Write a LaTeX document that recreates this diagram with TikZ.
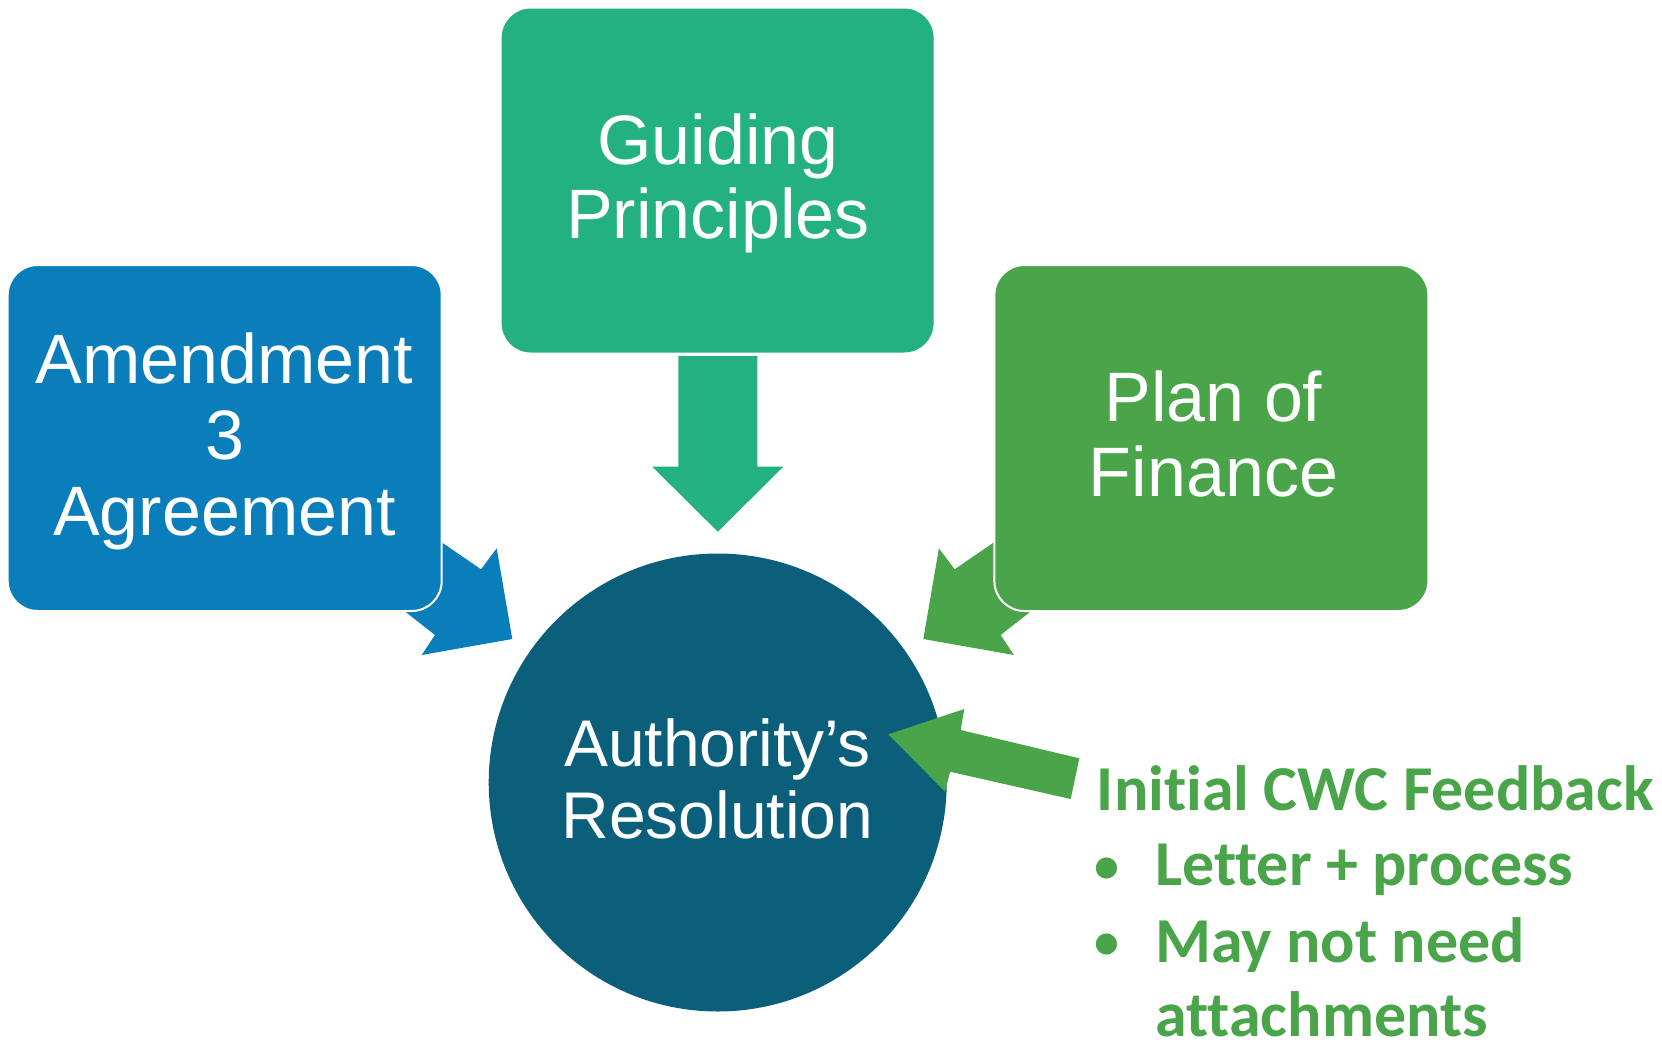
\documentclass[tikz,border=0pt]{standalone}
\usepackage{fontspec}
\setmainfont{Liberation Sans}
\newfontfamily\calibfont[Ligatures={NoCommon,NoContextual}]{Carlito}
\definecolor{gpgreen}{RGB}{36,177,130}
\definecolor{amblue}{RGB}{9,126,187}
\definecolor{pfgreen}{RGB}{74,164,74}
\definecolor{resblue}{RGB}{12,95,123}
\tikzset{
  boxshape/.style={rectangle, rounded corners=30pt, minimum width=434pt, minimum height=346pt, inner sep=0pt, outer sep=0pt, draw=white, line width=2pt},
  boxtext/.style={anchor=base, text=white, inner sep=0pt, font=\fontsize{70}{84}\selectfont},
  restext/.style={anchor=base, text=white, inner sep=0pt, font=\fontsize{66}{79}\selectfont},
  fbtext/.style={anchor=base west, text=pfgreen, inner sep=0pt, font=\calibfont\bfseries\fontsize{64}{77}\selectfont},
  fbbullet/.style={anchor=base west, text=pfgreen, inner sep=0pt, font=\calibfont\bfseries\fontsize{50}{60}\selectfont},
}
\begin{document}
\begin{tikzpicture}[x=1pt,y=-1pt]
\useasboundingbox (0,0) rectangle (1662,1042);
% block arrows from the boxes (behind the boxes)
\fill[amblue] (410,520.6) -- (481,569.3) -- (496.7,548.3) -- (512.3,639) -- (421.7,655) -- (435,635) -- (375,588) -- cycle;
\fill[pfgreen] (1025.6,520.6) -- (954.6,569.3) -- (938.9,548.3) -- (923.3,639) -- (1013.9,655) -- (1000.6,635) -- (1060.6,588) -- cycle;
\fill[gpgreen] (678.3,356) -- (757.3,356) -- (757.3,466.7) -- (783.3,466.7) -- (717.8,531.7) -- (652.3,466.7) -- (678.3,466.7) -- cycle;
% boxes
\node[boxshape, fill=gpgreen] (gp) at (717.6,180.5) {};
\node[boxshape, fill=amblue] (am) at (224.7,438) {};
\node[boxshape, fill=pfgreen] (pf) at (1211.4,438) {};
% circle
\node[circle, fill=resblue, minimum size=458pt, inner sep=0pt] (res) at (717.7,782.5) {};
% feedback arrow
\fill[pfgreen] (888.3,734.3) -- (964.3,709) -- (960.7,730) -- (1079.3,758.3) -- (1070.7,799) -- (950,771.7) -- (945,791.7) -- cycle;
% texts
\node[boxtext] (gp1) at (718,164) {Guiding};
\node[boxtext] (gp2) at (718,238.3) {Principles};
\node[boxtext] (am1) at (224.5,383.3) {Amendment};
\node[boxtext] (am2) at (224.5,459) {3};
\node[boxtext] (am3) at (224.5,535) {Agreement};
\node[boxtext] (pf1) at (1213.5,421) {Plan of};
\node[boxtext] (pf2) at (1213.5,496.7) {Finance};
\node[restext] (rs1) at (717.5,766.7) {Authority’s};
\node[restext] (rs2) at (717.5,838.3) {Resolution};
\node[fbtext] (fb0) at (1096.7,810) {Initial CWC Feedback};
\node[fbbullet] (fbb1) at (1094,882) {•};
\node[fbtext] (fb1) at (1155,885.7) {Letter + process};
\node[fbbullet] (fbb2) at (1094,958) {•};
\node[fbtext] (fb2) at (1155,962) {May not need};
\node[fbtext] (fb3) at (1155,1036.7) {attachments};
\end{tikzpicture}
\end{document}
